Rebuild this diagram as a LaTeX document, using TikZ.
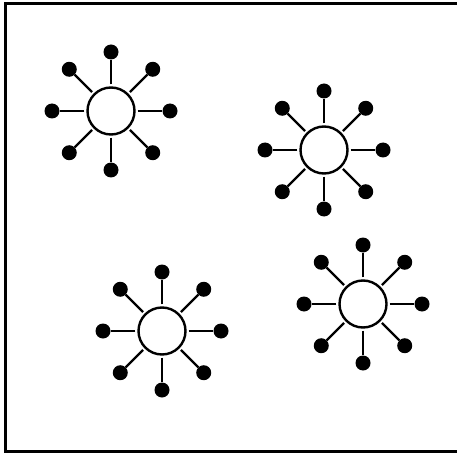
\documentclass[tikz,border=0pt]{standalone}
\usetikzlibrary{calc}

\tikzset{
    hub/.style={circle,draw,line width=2.4pt,fill=white,minimum size=47pt,inner sep=0pt},
    leaf/.style={circle,fill=black,minimum size=15pt,inner sep=0pt},
    spoke/.style={line width=2.4pt,shorten <=2pt}
}

\begin{document}
\begin{tikzpicture} [x=1pt,y=1pt]
    \useasboundingbox (0,0) rectangle (457,453);

    % outer frame (right side runs off the page)
    \draw[line width=3pt] (462,449) -- (5,449) -- (5,2) -- (462,2);

    % four hubs with eight spokes each
    \foreach \k/\cx/\cy in {1/111/342, 2/324/303, 3/162/122, 4/363/149} {
        \node[hub] (hub\k) at (\cx,\cy) {};
        \foreach \a in {0,45,...,315} {
            \node[leaf] (leaf\k-\a) at ($(hub\k)+(\a:59)$) {};
            \draw[spoke] (hub\k) -- (leaf\k-\a);
        }
    }

\end{tikzpicture}
\end{document}
